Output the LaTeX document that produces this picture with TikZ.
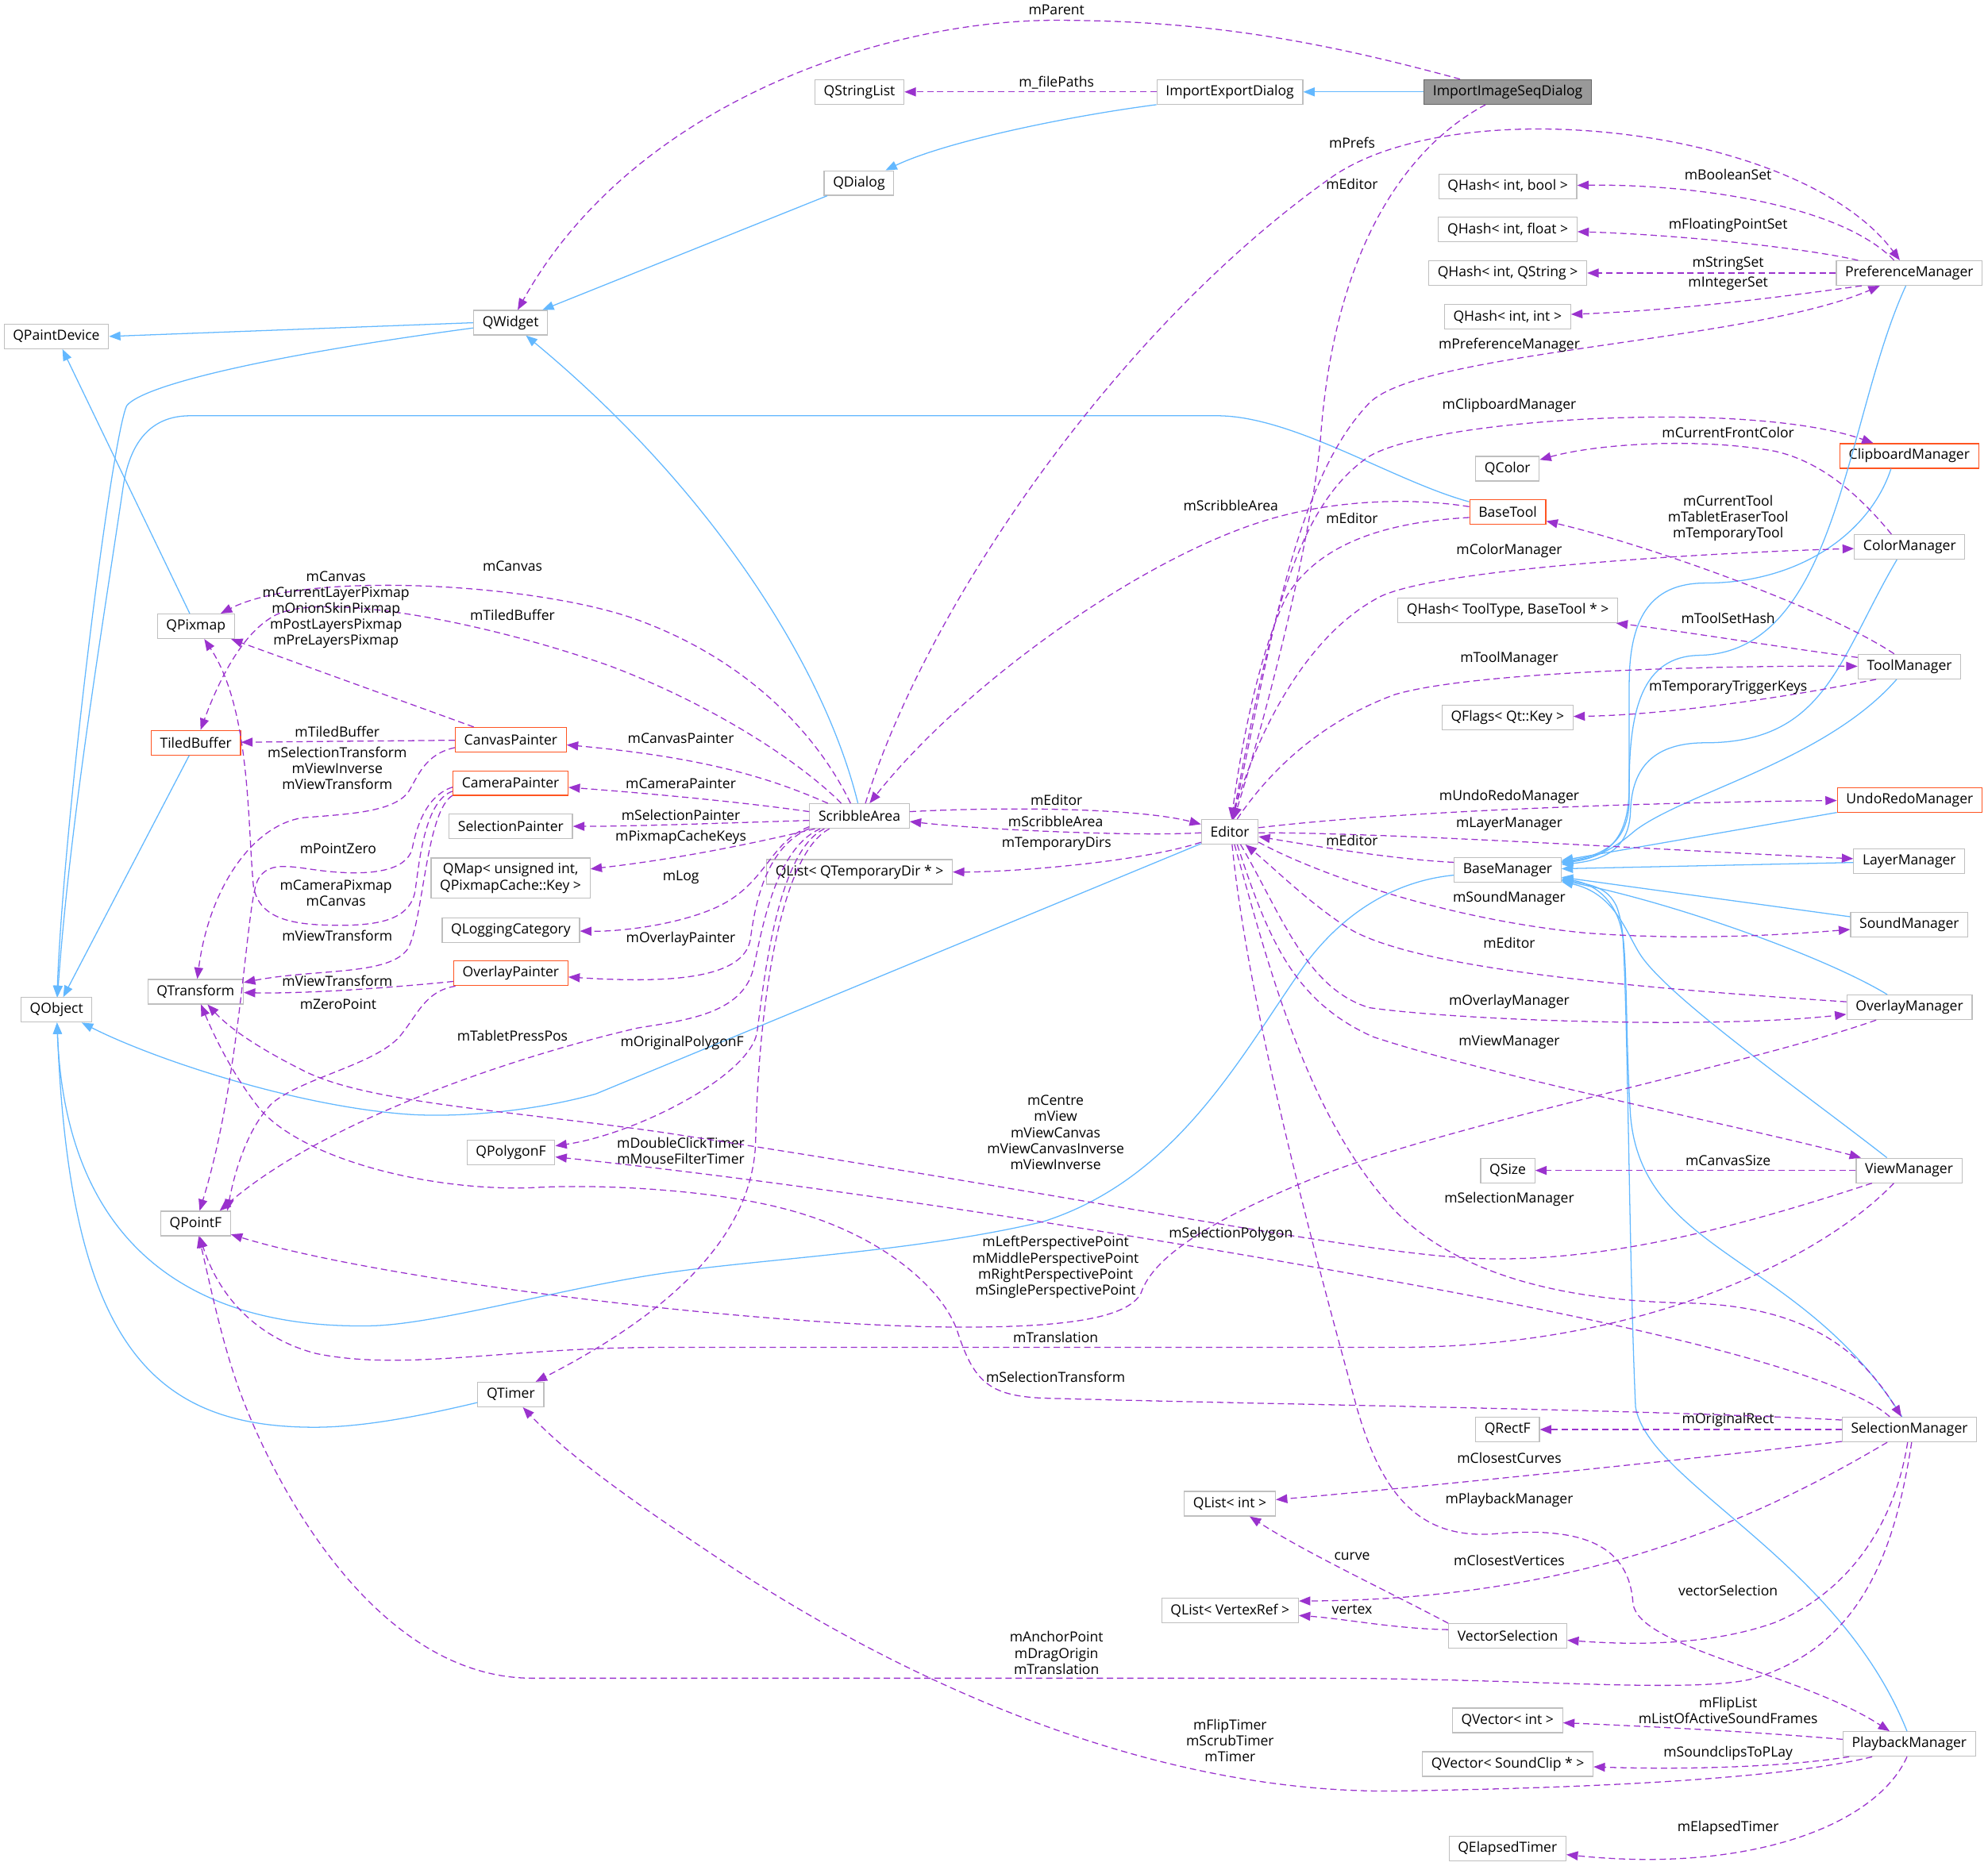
\documentclass[tikz,border=0pt]{standalone}
\usepackage{fontspec}
\setmainfont{Open Sans}
\usepackage{tikz}
\usetikzlibrary{arrows.meta}
\definecolor{edgeblue}{RGB}{99,184,255}
\definecolor{edgepurple}{RGB}{154,50,205}
\definecolor{boxgray}{RGB}{191,191,191}
\definecolor{boxred}{RGB}{255,85,34}
\definecolor{focusfill}{RGB}{153,153,153}
\definecolor{focusdraw}{RGB}{102,102,102}
\newcommand{\dotfont}{\fontsize{11}{12.6}\selectfont}
\tikzstyle{cls} = [rectangle, draw = boxgray, fill = white, line width = 0.75pt, %
                   inner xsep = 7pt, inner ysep = 0pt, minimum height = 19.4pt, %
                   align = center, font = \dotfont]
\tikzstyle{trunc} = [cls, draw = boxred]
\tikzstyle{focus} = [cls, draw = focusdraw, fill = focusfill]
\tikzstyle{inherit} = [draw = edgeblue, line width = 0.8pt, ->, %
                       >={Triangle[length=9pt,width=7pt]}]
\tikzstyle{member} = [draw = edgepurple, line width = 0.8pt, %
                      dash pattern = on 5pt off 3pt, ->, %
                      >={Triangle[length=9pt,width=7pt]}]
\tikzstyle{elabel} = [inner sep = 0pt, align = center, font = \dotfont]

\begin{document}
\begin{tikzpicture}[x=1pt, y=-1pt]
      \useasboundingbox (0,0) rectangle (1568,1475);
      % Boxes
      \node (ImportImageSeqDialog) [focus] at (1189.2,72.5) {ImportImageSeqDialog};
      \node (ImportExportDialog) [cls] at (970,72.5) {ImportExportDialog};
      \node (QStringList) [cls] at (677.9,72.5) {QStringList};
      \node (QDialog) [cls] at (677.5,144.4) {QDialog};
      \node (QWidget) [cls] at (402.7,254.6) {QWidget};
      \node (QPaintDevice) [cls] at (44.4,265.4) {QPaintDevice};
      \node (QPixmap) [cls] at (154.5,494.1) {QPixmap};
      \node (TiledBuffer) [trunc] at (154.5,585.9) {TiledBuffer};
      \node (QTransform) [cls] at (154.3,782.4) {QTransform};
      \node (QObject) [cls] at (44.6,796.7) {QObject};
      \node (QPointF) [cls] at (154.3,965.3) {QPointF};
      \node (CanvasPainter) [trunc] at (402.9,583.6) {CanvasPainter};
      \node (CameraPainter) [trunc] at (402.7,617.8) {CameraPainter};
      \node (SelectionPainter) [cls] at (402.9,651.8) {SelectionPainter};
      \node (QMap) [cls, minimum height = 31.9pt] at (402.7,692.8) %
        {QMap< unsigned int,\\ QPixmapCache::Key >};
      \node (QLoggingCategory) [cls] at (402.9,733.8) {QLoggingCategory};
      \node (OverlayPainter) [trunc] at (402.9,767.9) {OverlayPainter};
      \node (QPolygonF) [cls] at (403,909.1) {QPolygonF};
      \node (QTimer) [cls] at (402.9,1100.2) {QTimer};
      \node (ScribbleArea) [cls] at (677.9,643.8) {ScribbleArea};
      \node (QListTmpDir) [cls] at (677.9,687.9) {QList< QTemporaryDir * >};
      \node (Editor) [cls] at (970,656.2) {Editor};
      \node (QListInt) [cls] at (970,1186.3) {QList< int >};
      \node (QListVertex) [cls] at (970.2,1270.7) {QList< VertexRef >};
      \node (QHashBool) [cls] at (1189.2,147) {QHash< int, bool >};
      \node (QHashFloat) [cls] at (1189.2,181.2) {QHash< int, float >};
      \node (QHashString) [cls] at (1189.2,215.4) {QHash< int, QString >};
      \node (QHashInt) [cls] at (1189,249.8) {QHash< int, int >};
      \node (QColor) [cls] at (1189,369.8) {QColor};
      \node (BaseTool) [trunc] at (1189.2,404) {BaseTool};
      \node (QHashTool) [cls] at (1189.2,481.6) {QHash< ToolType, BaseTool * >};
      \node (QFlagsKey) [cls] at (1189,566) {QFlags< Qt::Key >};
      \node (BaseManager) [cls] at (1189.1,686.3) {BaseManager};
      \node (QSize) [cls] at (1189.2,923.4) {QSize};
      \node (QRectF) [cls] at (1189,1127.8) {QRectF};
      \node (VectorSelection) [cls] at (1189.2,1290.6) {VectorSelection};
      \node (QVectorInt) [cls] at (1189,1357.3) {QVector< int >};
      \node (QVectorSound) [cls] at (1189.2,1391.7) {QVector< SoundClip * >};
      \node (QElapsedTimer) [cls] at (1189,1458.4) {QElapsedTimer};
      \node (PreferenceManager) [cls] at (1505.9,215.4) {PreferenceManager};
      \node (ClipboardManager) [trunc] at (1505.9,359.7) {ClipboardManager};
      \node (ColorManager) [cls] at (1506.2,431.5) {ColorManager};
      \node (ToolManager) [cls] at (1506,525.9) {ToolManager};
      \node (UndoRedoManager) [trunc] at (1506.2,631) {UndoRedoManager};
      \node (LayerManager) [cls] at (1505.9,679.5) {LayerManager};
      \node (SoundManager) [cls] at (1505.9,729.6) {SoundManager};
      \node (OverlayManager) [cls] at (1506,794.7) {OverlayManager};
      \node (ViewManager) [cls] at (1505.7,923.4) {ViewManager};
      \node (SelectionManager) [cls] at (1506,1127.8) {SelectionManager};
      \node (PlaybackManager) [cls] at (1505.9,1375.9) {PlaybackManager};
      % Inheritance
      \draw [inherit] (ImportImageSeqDialog) -- (ImportExportDialog);
      \draw [inherit] (ImportExportDialog.south west) .. controls (840,92) and (745,112) .. (QDialog);
      \draw [inherit] (QDialog) -- (QWidget);
      \draw [inherit] (QWidget.west) -- (QPaintDevice.east);
      \draw [inherit] (QWidget.188) .. controls (200,282) and (112,305) .. (100,320) %
        .. controls (88,345) and (50,650) .. (QObject);
      \draw [inherit] (QPixmap) -- (QPaintDevice);
      \draw [inherit] (TiledBuffer) -- (QObject);
      \draw [inherit] (BaseTool.165) .. controls (1100,380) and (1020,328) .. (960,328) %
        -- (150,328) .. controls (118,328) and (102,350) .. (97,385) %
        .. controls (80,500) and (55,650) .. (QObject);
      \draw [inherit] (ScribbleArea.97) .. controls (650,525) and (560,385) .. (QWidget);
      \draw [inherit] (Editor) -- (470,863) .. controls (420,877) and (360,882) .. (320,879) %
        .. controls (230,872) and (120,835) .. (QObject);
      \draw [inherit] (BaseManager) .. controls (1100,695) and (1060,720) .. (1030,760) %
        .. controls (980,830) and (930,930) .. (822,964) %
        .. controls (720,988) and (600,993) .. (520,1005) %
        .. controls (440,1017) and (340,1046) .. (290,1046) %
        .. controls (160,1048) and (52,990) .. (QObject);
      \draw [inherit] (QTimer) .. controls (320,1120) and (280,1126) .. (248,1126) %
        .. controls (120,1126) and (55,1060) .. (QObject);
      \draw [inherit] (PreferenceManager.255) .. controls (1455,330) and (1450,515) .. (1340,517) %
        .. controls (1295,518) and (1285,560) .. (1285,620) %
        .. controls (1285,660) and (1270,676) .. (BaseManager);
      \draw [inherit] (ClipboardManager.215) .. controls (1475,420) and (1420,460) .. (1345,460) %
        .. controls (1300,460) and (1285,490) .. (1285,540) -- (1285,630) %
        .. controls (1285,660) and (1270,674) .. (BaseManager);
      \draw [inherit] (ColorManager.225) .. controls (1450,520) and (1440,586) .. (1345,586) %
        .. controls (1300,586) and (1287,610) .. (1286,640) %
        .. controls (1285,665) and (1272,678) .. (BaseManager);
      \draw [inherit] (ToolManager.225) .. controls (1440,600) and (1330,625) .. (1290,655) %
        .. controls (1278,665) and (1265,676) .. (BaseManager);
      \draw [inherit] (UndoRedoManager) -- (BaseManager);
      \draw [inherit] (LayerManager) -- (BaseManager);
      \draw [inherit] (SoundManager) -- (BaseManager);
      \draw [inherit] (OverlayManager.150) .. controls (1440,755) and (1320,712) .. (BaseManager);
      \draw [inherit] (ViewManager.150) .. controls (1420,860) and (1320,790) .. (1295,755) %
        .. controls (1283,738) and (1275,705) .. (BaseManager);
      \draw [inherit] (SelectionManager.120) .. controls (1420,990) and (1295,990) .. (1286,880) %
        .. controls (1281,800) and (1285,740) .. (1275,715) %
        .. controls (1268,700) and (1255,698) .. (BaseManager);
      \draw [inherit] (PlaybackManager.100) .. controls (1450,1230) and (1300,1170) .. (1290,1110) %
        .. controls (1285,1000) and (1284,800) .. (1280,740) %
        .. controls (1277,715) and (1262,698) .. (BaseManager);
      % Members
      \draw [member] (ImportImageSeqDialog.165) .. controls (1040,32) and (950,16) .. (832,16) %
        .. controls (700,16) and (500,80) .. (QWidget) %
        node[elabel] at (833.3,7.5) {mParent};
      \draw [member] (ImportImageSeqDialog.210) .. controls (1120,110) and (1055,180) .. (1042,340) %
        .. controls (1036,420) and (1000,560) .. (Editor) %
        node[elabel] at (1066.4,145) {mEditor};
      \draw [member] (ImportExportDialog) -- (QStringList) %
        node[elabel] at (833.3,65.2) {m\_filePaths};
      \draw [member] (ScribbleArea.65) .. controls (730,480) and (880,260) .. (1050,140) %
        .. controls (1150,70) and (1420,100) .. (PreferenceManager) %
        node[elabel] at (1066.4,112.6) {mPrefs};
      \draw [member] (ScribbleArea.5) .. controls (800,636) and (900,638) .. (Editor) %
        node[elabel] at (833.3,631) {mEditor};
      \draw [member] (Editor.182) .. controls (900,660) and (780,655) .. (ScribbleArea) %
        node[elabel] at (832.6,647.8) {mScribbleArea};
      \draw [member] (Editor.200) .. controls (900,680) and (800,688) .. (QListTmpDir) %
        node[elabel] at (833.3,666) {mTemporaryDirs};
      \draw [member] (ScribbleArea.125) .. controls (645,580) and (590,520) .. (500,488) %
        .. controls (420,460) and (240,450) .. (QPixmap) %
        node[elabel] at (404.2,446.6) {mCanvas};
      \draw [member] (ScribbleArea.145) .. controls (630,600) and (560,555) .. (480,525) %
        .. controls (380,490) and (260,468) .. (220,484) %
        .. controls (195,495) and (175,530) .. (TiledBuffer) %
        node[elabel] at (404.2,485.1) {mTiledBuffer};
      \draw [member] (ScribbleArea.158) .. controls (610,615) and (560,598) .. (CanvasPainter) %
        node[elabel] at (537,582.7) {mCanvasPainter};
      \draw [member] (ScribbleArea.175) .. controls (580,632) and (500,625) .. (CameraPainter) %
        node[elabel] at (537,617.9) {mCameraPainter};
      \draw [member] (ScribbleArea.185) .. controls (580,649) and (500,652) .. (SelectionPainter) %
        node[elabel] at (537,643) {mSelectionPainter};
      \draw [member] (ScribbleArea.196) .. controls (600,664) and (540,677) .. (QMap) %
        node[elabel] at (537,660.5) {mPixmapCacheKeys};
      \draw [member] (ScribbleArea.192) .. controls (605,665) and (605,700) .. (560,718) %
        .. controls (530,730) and (490,735) .. (QLoggingCategory) %
        node[elabel] at (537.1,692.1) {mLog};
      \draw [member] (ScribbleArea.194) .. controls (605,668) and (596,710) .. (592,740) %
        .. controls (588,772) and (530,776) .. (OverlayPainter) %
        node[elabel] at (537,740.8) {mOverlayPainter};
      \draw [member] (ScribbleArea.198) .. controls (610,670) and (600,740) .. (594,765) %
        .. controls (585,800) and (540,805) .. (503,811) %
        .. controls (420,830) and (260,880) .. (QPointF.28) %
        node[elabel] at (404.2,817.2) {mTabletPressPos};
      \draw [member] (ScribbleArea.200) .. controls (612,672) and (602,780) .. (597,815) %
        .. controls (590,850) and (500,895) .. (QPolygonF) %
        node[elabel] at (538,822.8) {mOriginalPolygonF};
      \draw [member] (ScribbleArea.203) .. controls (614,675) and (598,800) .. (596,900) %
        .. controls (594,980) and (520,1040) .. (QTimer) %
        node[elabel] at (537,908) {mDoubleClickTimer\\mMouseFilterTimer};
      \draw [member] (CanvasPainter.161) -- (QPixmap) %
        node[elabel] at (265,481) %
        {mCanvas\\mCurrentLayerPixmap\\mOnionSkinPixmap\\mPostLayersPixmap\\mPreLayersPixmap};
      \draw [member] (CanvasPainter) -- (TiledBuffer) %
        node[elabel] at (266,577.4) {mTiledBuffer};
      \draw [member] (CanvasPainter.188) .. controls (335,595) and (330,612) .. (322,625) %
        .. controls (310,640) and (280,642) .. (240,645) %
        .. controls (200,650) and (165,700) .. (QTransform) %
        node[elabel] at (266,606) {mSelectionTransform\\mViewInverse\\mViewTransform};
      \draw [member] (CameraPainter.184) .. controls (335,628) and (328,655) .. (325,670) %
        .. controls (320,688) and (290,690) .. (265,688) %
        .. controls (235,686) and (212,676) .. (203,695) %
        .. controls (194,715) and (190,850) .. (QPointF) %
        node[elabel] at (266.7,669.4) {mPointZero};
      \draw [member] (CameraPainter.188) .. controls (333,632) and (330,690) .. (327,705) %
        .. controls (322,725) and (300,730) .. (268,730) %
        .. controls (230,730) and (205,725) .. (200,700) %
        .. controls (195,650) and (198,560) .. (QPixmap) %
        node[elabel] at (265,704.4) {mCameraPixmap\\mCanvas};
      \draw [member] (CameraPainter.192) .. controls (336,640) and (334,725) .. (322,748) %
        .. controls (308,770) and (250,764) .. (QTransform) %
        node[elabel] at (266,738.4) {mViewTransform};
      \draw [member] (OverlayPainter.188) .. controls (300,780) and (240,784) .. (QTransform) %
        node[elabel] at (266,773.6) {mViewTransform};
      \draw [member] (OverlayPainter.193) .. controls (335,782) and (330,800) .. (315,818) %
        .. controls (295,840) and (240,850) .. (215,870) %
        .. controls (195,890) and (185,925) .. (QPointF.22) %
        node[elabel] at (266.7,792.1) {mZeroPoint};
      \draw [member] (Editor.75) .. controls (1000,520) and (1020,380) .. (1080,318) %
        .. controls (1120,277) and (1380,270) .. (PreferenceManager) %
        node[elabel] at (1190.4,272.2) {mPreferenceManager};
      \draw [member] (Editor.78) .. controls (1000,500) and (1020,400) .. (1080,360) %
        .. controls (1130,330) and (1380,315) .. (ClipboardManager) %
        node[elabel] at (1190.4,319.9) {mClipboardManager};
      \draw [member] (Editor.80) .. controls (990,580) and (1030,500) .. (1090,470) %
        .. controls (1140,448) and (1350,436) .. (ColorManager) %
        node[elabel] at (1190.4,434.8) {mColorManager};
      \draw [member] (Editor.60) .. controls (1000,610) and (1040,570) .. (1100,548) %
        .. controls (1160,530) and (1350,525) .. (ToolManager) %
        node[elabel] at (1190.4,519.6) {mToolManager};
      \draw [member] (Editor.8) .. controls (1100,640) and (1300,633) .. (UndoRedoManager) %
        node[elabel] at (1190.4,628.9) {mUndoRedoManager};
      \draw [member] (Editor.358) .. controls (1100,657) and (1300,670) .. (LayerManager) %
        node[elabel] at (1190.4,650.2) {mLayerManager};
      \draw [member] (BaseManager.172) .. controls (1100,678) and (1040,668) .. (Editor) %
        node[elabel] at (1066.4,662.9) {mEditor};
      \draw [member] (Editor.340) .. controls (1040,690) and (1140,725) .. (1250,736) %
        .. controls (1330,742) and (1400,738) .. (SoundManager) %
        node[elabel] at (1190.4,708.7) {mSoundManager};
      \draw [member] (OverlayManager.175) .. controls (1300,780) and (1110,765) .. (1060,730) %
        .. controls (1030,710) and (1005,685) .. (Editor) %
        node[elabel] at (1190.4,744) {mEditor};
      \draw [member] (Editor.310) .. controls (1010,720) and (1030,780) .. (1080,795) %
        .. controls (1150,805) and (1350,812) .. (OverlayManager) %
        node[elabel] at (1190.4,789.9) {mOverlayManager};
      \draw [member] (Editor.300) .. controls (1000,740) and (1020,790) .. (1083,818) %
        .. controls (1180,850) and (1380,890) .. (ViewManager) %
        node[elabel] at (1190.4,822.5) {mViewManager};
      \draw [member] (Editor.290) .. controls (1000,760) and (1030,880) .. (1100,955) %
        .. controls (1150,1005) and (1230,1026) .. (1330,1028) %
        .. controls (1430,1030) and (1470,1070) .. (SelectionManager) %
        node[elabel] at (1190.4,946.1) {mSelectionManager};
      \draw [member] (Editor.280) .. controls (985,800) and (1040,1000) .. (1070,1110) %
        .. controls (1090,1180) and (1120,1215) .. (1180,1210) %
        .. controls (1250,1204) and (1285,1220) .. (1288,1265) %
        .. controls (1292,1300) and (1420,1320) .. (PlaybackManager) %
        node[elabel] at (1190.4,1183.2) {mPlaybackManager};
      \draw [member] (PreferenceManager.140) .. controls (1450,160) and (1330,145) .. (QHashBool) %
        node[elabel] at (1363,137.8) {mBooleanSet};
      \draw [member] (PreferenceManager.166) .. controls (1420,195) and (1320,185) .. (QHashFloat) %
        node[elabel] at (1363,177.8) {mFloatingPointSet};
      \draw [member] (PreferenceManager) -- (QHashString) %
        node[elabel] at (1363,208) {mStringSet};
      \draw [member] (PreferenceManager.195) .. controls (1400,235) and (1320,245) .. (QHashInt) %
        node[elabel] at (1363,224) {mIntegerSet};
      \draw [member] (ColorManager.145) .. controls (1470,395) and (1440,365) .. (1400,356) %
        .. controls (1340,345) and (1260,350) .. (QColor) %
        node[elabel] at (1363,341.4) {mCurrentFrontColor};
      \draw [member] (BaseTool.172) .. controls (1110,392) and (1050,395) .. (1000,410) %
        .. controls (900,440) and (760,540) .. (ScribbleArea) %
        node[elabel] at (970.8,398.9) {mScribbleArea};
      \draw [member] (BaseTool.188) .. controls (1090,412) and (1040,430) .. (1015,470) %
        .. controls (995,510) and (980,580) .. (Editor) %
        node[elabel] at (1066.4,408.9) {mEditor};
      \draw [member] (ToolManager.140) .. controls (1440,480) and (1300,430) .. (BaseTool) %
        node[elabel] at (1363,408.9) {mCurrentTool\\mTabletEraserTool\\mTemporaryTool};
      \draw [member] (ToolManager.170) .. controls (1400,510) and (1320,497) .. (QHashTool) %
        node[elabel] at (1363,487.5) {mToolSetHash};
      \draw [member] (ToolManager.201) .. controls (1420,548) and (1320,564) .. (QFlagsKey) %
        node[elabel] at (1363,542.6) {mTemporaryTriggerKeys};
      \draw [member] (OverlayManager.201) .. controls (1380,840) and (1150,885) .. (1040,928) %
        .. controls (960,960) and (910,990) .. (900,1020) %
        .. controls (890,1040) and (840,1047) .. (760,1047) %
        .. controls (600,1047) and (300,1010) .. (QPointF) %
        node[elabel] at (832.6,999.7) %
        {mLeftPerspectivePoint\\mMiddlePerspectivePoint\\mRightPerspectivePoint\\mSinglePerspectivePoint};
      \draw [member] (ViewManager) -- (QSize) %
        node[elabel] at (1363,915.7) {mCanvasSize};
      \draw [member] (ViewManager.199) .. controls (1380,965) and (1260,1000) .. (1150,992) %
        .. controls (1050,985) and (800,935) .. (520,893) %
        .. controls (400,876) and (290,870) .. (240,845) %
        .. controls (200,825) and (180,810) .. (QTransform) %
        node[elabel] at (832.6,893.4) %
        {mCentre\\mView\\mViewCanvas\\mViewCanvasInverse\\mViewInverse};
      \draw [member] (ViewManager.220) .. controls (1440,990) and (1300,1063) .. (1100,1063) %
        -- (520,1063) .. controls (400,1063) and (320,1082) .. (250,1068) %
        .. controls (210,1058) and (175,1030) .. (QPointF) %
        node[elabel] at (832.6,1055.2) {mTranslation};
      \draw [member] (SelectionManager) -- (QRectF) %
        node[elabel] at (1363,1120.5) {mOriginalRect};
      \draw [member] (SelectionManager.190) .. controls (1300,1155) and (1100,1175) .. (QListInt) %
        node[elabel] at (1190.4,1150.4) {mClosestCurves};
      \draw [member] (SelectionManager.210) .. controls (1400,1190) and (1260,1262) .. (QListVertex.8) %
        node[elabel] at (1190.4,1231.2) {mClosestVertices};
      \draw [member] (SelectionManager.262) .. controls (1495,1200) and (1460,1255) .. (1400,1280) %
        .. controls (1350,1298) and (1290,1298) .. (VectorSelection) %
        node[elabel] at (1363,1254.8) {vectorSelection};
      \draw [member] (SelectionManager.280) .. controls (1495,1220) and (1470,1300) .. (1380,1325) %
        .. controls (1330,1336) and (1200,1324) .. (1040,1324) -- (420,1324) %
        .. controls (300,1324) and (220,1180) .. (190,1100) %
        .. controls (175,1060) and (165,1010) .. (QPointF) %
        node[elabel] at (833.3,1304) {mAnchorPoint\\mDragOrigin\\mTranslation};
      \draw [member] (SelectionManager.172) .. controls (1300,1112) and (1000,1108) .. (822,1103) %
        .. controls (780,1101) and (768,1090) .. (755,1050) %
        .. controls (745,1020) and (700,975) .. (620,954) %
        .. controls (560,938) and (470,934) .. (420,937) %
        .. controls (340,940) and (240,915) .. (205,875) %
        .. controls (185,850) and (170,820) .. (QTransform) %
        node[elabel] at (832.6,1086.3) {mSelectionTransform};
      \draw [member] (SelectionManager.147) .. controls (1460,1090) and (1350,1060) .. (1200,1030) %
        .. controls (1050,1000) and (700,940) .. (QPolygonF) %
        node[elabel] at (970.8,973.7) {mSelectionPolygon};
      \draw [member] (VectorSelection.168) .. controls (1090,1253) and (1030,1225) .. (QListInt) %
        node[elabel] at (1066.4,1228.1) {curve};
      \draw [member] (VectorSelection.174) .. controls (1100,1285) and (1060,1277) .. (QListVertex) %
        node[elabel] at (1066.4,1269.8) {vertex};
      \draw [member] (PlaybackManager.199) .. controls (1420,1400) and (1300,1410) .. (1100,1413) %
        .. controls (900,1415) and (700,1320) .. (560,1225) %
        .. controls (500,1185) and (450,1150) .. (QTimer) %
        node[elabel] at (970.2,1373.3) {mFlipTimer\\mScrubTimer\\mTimer};
      \draw [member] (PlaybackManager.176) .. controls (1380,1366) and (1300,1362) .. (QVectorInt) %
        node[elabel] at (1363,1349.4) {mFlipList\\mListOfActiveSoundFrames};
      \draw [member] (PlaybackManager.192) .. controls (1400,1395) and (1320,1396) .. (QVectorSound) %
        node[elabel] at (1363,1383.5) {mSoundclipsToPLay};
      \draw [member] (PlaybackManager.260) .. controls (1480,1440) and (1380,1478) .. (QElapsedTimer) %
        node[elabel] at (1363,1441.8) {mElapsedTimer};
    \end{tikzpicture}
\end{document}
